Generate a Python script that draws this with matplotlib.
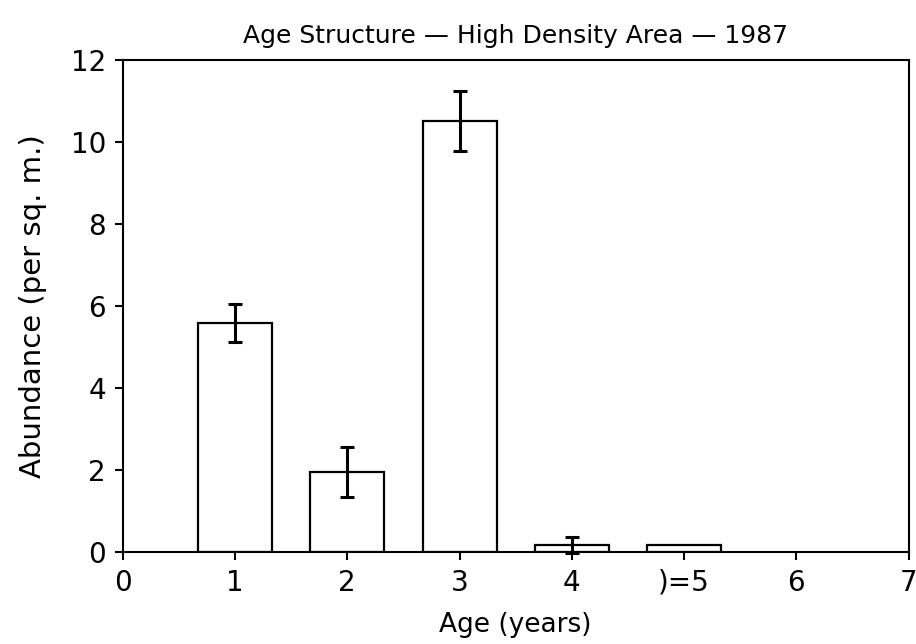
import matplotlib
matplotlib.use("Agg")
import matplotlib.pyplot as plt

# Age classes and mean abundance with standard errors
ages = [1, 2, 3, 4, 5]
abundance = [5.58, 1.95, 10.52, 0.17, 0.17]
errors = [0.46, 0.60, 0.73, 0.20, 0.0]
tick_positions = [0, 1, 2, 3, 4, 5, 6, 7]
tick_labels = ["0", "1", "2", "3", "4", ")=5", "6", "7"]
y_ticks = [0, 2, 4, 6, 8, 10, 12]

plt.rcParams["font.family"] = ["DejaVu Sans"]

fig = plt.figure(figsize=(9.16, 6.44), dpi=100)
ax = fig.add_axes([0.134, 0.143, 0.858, 0.764])

ax.bar(ages, abundance, width=0.66, facecolor="white", edgecolor="black",
       linewidth=1.6, zorder=2)
# bars with a zero error get no whisker
err_x = [a for a, e in zip(ages, errors) if e > 0]
err_y = [v for v, e in zip(abundance, errors) if e > 0]
err_e = [e for e in errors if e > 0]
ax.errorbar(err_x, err_y, yerr=err_e, fmt="none", ecolor="black",
            elinewidth=2.2, capsize=5, capthick=2.2, zorder=3, clip_on=False)

ax.set_xlim(0, 7)
ax.set_ylim(0, 12)
ax.set_xticks(tick_positions)
ax.set_xticklabels(tick_labels)
ax.set_yticks(y_ticks)
ax.tick_params(axis="both", direction="out", length=6, width=1.5,
               labelsize=20, pad=6)

for s in ax.spines.values():
    s.set_linewidth(1.5)

ax.set_xlabel("Age (years)", fontsize=19, labelpad=11)
ax.set_ylabel("Abundance (per sq. m.)", fontsize=21)
ax.yaxis.set_label_coords(-0.097, 0.5)
ax.set_title("Age Structure \u2014 High Density Area \u2014 1987", fontsize=18, pad=12)

fig.savefig("out.png", dpi=100)
